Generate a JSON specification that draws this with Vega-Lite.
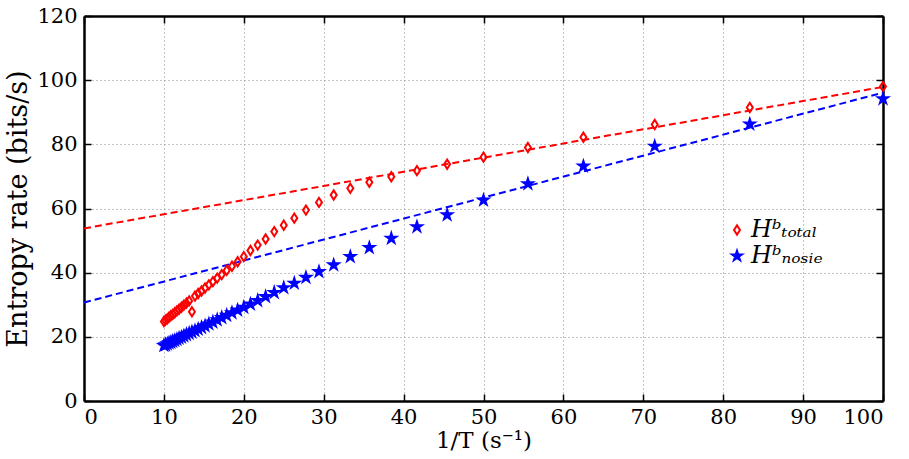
{
  "$schema": "https://vega.github.io/schema/vega-lite/v6.json",
  "width": 799,
  "height": 385,
  "autosize": "none",
  "padding": {"left": 84, "top": 16, "right": 26, "bottom": 58},
  "background": "white",
  "config": {
    "view": {"stroke": null},
    "font": "DejaVu Serif",
    "axis": {
      "domainColor": "black", "domainWidth": 2.5,
      "tickColor": "black", "tickWidth": 1.5, "tickSize": -7,
      "labelFont": "DejaVu Serif", "labelFontSize": 21, "labelColor": "black",
      "titleFont": "DejaVu Serif", "titleFontSize": 25, "titleFontWeight": "normal", "titleColor": "black",
      "gridColor": "#8a8a8a", "gridDash": [1, 3], "gridWidth": 1
    },
    "legend": {"labelFont": "DejaVu Serif", "labelFontSize": 24, "labelFontStyle": "italic", "labelColor": "black"}
  },
  "datasets": {
    "fits": [
      {"x": 0, "y": 53.8, "s": "total"},
      {"x": 100, "y": 97.9, "s": "total"},
      {"x": 0, "y": 30.7, "s": "noise"},
      {"x": 100, "y": 96.1, "s": "noise"}
    ],
    "pts": [
      {"x": 100, "y": 98.0, "s": "Hᵇₜₒₜₐₗ"},
      {"x": 83.33, "y": 91.5, "s": "Hᵇₜₒₜₐₗ"},
      {"x": 71.43, "y": 86.2, "s": "Hᵇₜₒₜₐₗ"},
      {"x": 62.5, "y": 82.2, "s": "Hᵇₜₒₜₐₗ"},
      {"x": 55.56, "y": 79.0, "s": "Hᵇₜₒₜₐₗ"},
      {"x": 50, "y": 76.0, "s": "Hᵇₜₒₜₐₗ"},
      {"x": 45.45, "y": 73.8, "s": "Hᵇₜₒₜₐₗ"},
      {"x": 41.67, "y": 71.8, "s": "Hᵇₜₒₜₐₗ"},
      {"x": 38.46, "y": 69.9, "s": "Hᵇₜₒₜₐₗ"},
      {"x": 35.71, "y": 68.2, "s": "Hᵇₜₒₜₐₗ"},
      {"x": 33.33, "y": 66.3, "s": "Hᵇₜₒₜₐₗ"},
      {"x": 31.25, "y": 64.2, "s": "Hᵇₜₒₜₐₗ"},
      {"x": 29.41, "y": 61.9, "s": "Hᵇₜₒₜₐₗ"},
      {"x": 27.78, "y": 59.5, "s": "Hᵇₜₒₜₐₗ"},
      {"x": 26.32, "y": 57.0, "s": "Hᵇₜₒₜₐₗ"},
      {"x": 25, "y": 54.8, "s": "Hᵇₜₒₜₐₗ"},
      {"x": 23.81, "y": 52.8, "s": "Hᵇₜₒₜₐₗ"},
      {"x": 22.73, "y": 50.5, "s": "Hᵇₜₒₜₐₗ"},
      {"x": 21.74, "y": 48.6, "s": "Hᵇₜₒₜₐₗ"},
      {"x": 20.83, "y": 46.9, "s": "Hᵇₜₒₜₐₗ"},
      {"x": 20, "y": 45.0, "s": "Hᵇₜₒₜₐₗ"},
      {"x": 19.23, "y": 43.4, "s": "Hᵇₜₒₜₐₗ"},
      {"x": 18.52, "y": 42.0, "s": "Hᵇₜₒₜₐₗ"},
      {"x": 17.86, "y": 40.7, "s": "Hᵇₜₒₜₐₗ"},
      {"x": 17.24, "y": 39.4, "s": "Hᵇₜₒₜₐₗ"},
      {"x": 16.67, "y": 38.3, "s": "Hᵇₜₒₜₐₗ"},
      {"x": 16.13, "y": 37.2, "s": "Hᵇₜₒₜₐₗ"},
      {"x": 15.63, "y": 36.2, "s": "Hᵇₜₒₜₐₗ"},
      {"x": 15.15, "y": 35.2, "s": "Hᵇₜₒₜₐₗ"},
      {"x": 14.71, "y": 34.3, "s": "Hᵇₜₒₜₐₗ"},
      {"x": 14.29, "y": 33.5, "s": "Hᵇₜₒₜₐₗ"},
      {"x": 13.89, "y": 32.7, "s": "Hᵇₜₒₜₐₗ"},
      {"x": 13.51, "y": 27.8, "s": "Hᵇₜₒₜₐₗ"},
      {"x": 13.16, "y": 31.2, "s": "Hᵇₜₒₜₐₗ"},
      {"x": 12.82, "y": 30.5, "s": "Hᵇₜₒₜₐₗ"},
      {"x": 12.5, "y": 29.9, "s": "Hᵇₜₒₜₐₗ"},
      {"x": 12.2, "y": 29.2, "s": "Hᵇₜₒₜₐₗ"},
      {"x": 11.9, "y": 28.6, "s": "Hᵇₜₒₜₐₗ"},
      {"x": 11.63, "y": 28.1, "s": "Hᵇₜₒₜₐₗ"},
      {"x": 11.36, "y": 27.5, "s": "Hᵇₜₒₜₐₗ"},
      {"x": 11.11, "y": 27.0, "s": "Hᵇₜₒₜₐₗ"},
      {"x": 10.87, "y": 26.6, "s": "Hᵇₜₒₜₐₗ"},
      {"x": 10.64, "y": 26.1, "s": "Hᵇₜₒₜₐₗ"},
      {"x": 10.42, "y": 25.6, "s": "Hᵇₜₒₜₐₗ"},
      {"x": 10.2, "y": 25.2, "s": "Hᵇₜₒₜₐₗ"},
      {"x": 10, "y": 24.8, "s": "Hᵇₜₒₜₐₗ"},
      {"x": 100, "y": 94.2, "s": "Hᵇₙₒₛᵢₑ"},
      {"x": 83.33, "y": 86.3, "s": "Hᵇₙₒₛᵢₑ"},
      {"x": 71.43, "y": 79.4, "s": "Hᵇₙₒₛᵢₑ"},
      {"x": 62.5, "y": 73.2, "s": "Hᵇₙₒₛᵢₑ"},
      {"x": 55.56, "y": 67.7, "s": "Hᵇₙₒₛᵢₑ"},
      {"x": 50, "y": 62.6, "s": "Hᵇₙₒₛᵢₑ"},
      {"x": 45.45, "y": 58.0, "s": "Hᵇₙₒₛᵢₑ"},
      {"x": 41.67, "y": 54.3, "s": "Hᵇₙₒₛᵢₑ"},
      {"x": 38.46, "y": 50.7, "s": "Hᵇₙₒₛᵢₑ"},
      {"x": 35.71, "y": 47.8, "s": "Hᵇₙₒₛᵢₑ"},
      {"x": 33.33, "y": 45.0, "s": "Hᵇₙₒₛᵢₑ"},
      {"x": 31.25, "y": 42.4, "s": "Hᵇₙₒₛᵢₑ"},
      {"x": 29.41, "y": 40.3, "s": "Hᵇₙₒₛᵢₑ"},
      {"x": 27.78, "y": 38.5, "s": "Hᵇₙₒₛᵢₑ"},
      {"x": 26.32, "y": 36.7, "s": "Hᵇₙₒₛᵢₑ"},
      {"x": 25, "y": 35.3, "s": "Hᵇₙₒₛᵢₑ"},
      {"x": 23.81, "y": 33.8, "s": "Hᵇₙₒₛᵢₑ"},
      {"x": 22.73, "y": 32.5, "s": "Hᵇₙₒₛᵢₑ"},
      {"x": 21.74, "y": 31.3, "s": "Hᵇₙₒₛᵢₑ"},
      {"x": 20.83, "y": 30.2, "s": "Hᵇₙₒₛᵢₑ"},
      {"x": 20, "y": 29.2, "s": "Hᵇₙₒₛᵢₑ"},
      {"x": 19.23, "y": 28.3, "s": "Hᵇₙₒₛᵢₑ"},
      {"x": 18.52, "y": 27.5, "s": "Hᵇₙₒₛᵢₑ"},
      {"x": 17.86, "y": 26.7, "s": "Hᵇₙₒₛᵢₑ"},
      {"x": 17.24, "y": 26.0, "s": "Hᵇₙₒₛᵢₑ"},
      {"x": 16.67, "y": 25.3, "s": "Hᵇₙₒₛᵢₑ"},
      {"x": 16.13, "y": 24.6, "s": "Hᵇₙₒₛᵢₑ"},
      {"x": 15.63, "y": 24.0, "s": "Hᵇₙₒₛᵢₑ"},
      {"x": 15.15, "y": 23.4, "s": "Hᵇₙₒₛᵢₑ"},
      {"x": 14.71, "y": 22.9, "s": "Hᵇₙₒₛᵢₑ"},
      {"x": 14.29, "y": 22.4, "s": "Hᵇₙₒₛᵢₑ"},
      {"x": 13.89, "y": 21.9, "s": "Hᵇₙₒₛᵢₑ"},
      {"x": 13.51, "y": 21.5, "s": "Hᵇₙₒₛᵢₑ"},
      {"x": 13.16, "y": 21.1, "s": "Hᵇₙₒₛᵢₑ"},
      {"x": 12.82, "y": 20.7, "s": "Hᵇₙₒₛᵢₑ"},
      {"x": 12.5, "y": 20.3, "s": "Hᵇₙₒₛᵢₑ"},
      {"x": 12.2, "y": 19.9, "s": "Hᵇₙₒₛᵢₑ"},
      {"x": 11.9, "y": 19.6, "s": "Hᵇₙₒₛᵢₑ"},
      {"x": 11.63, "y": 19.2, "s": "Hᵇₙₒₛᵢₑ"},
      {"x": 11.36, "y": 18.9, "s": "Hᵇₙₒₛᵢₑ"},
      {"x": 11.11, "y": 18.6, "s": "Hᵇₙₒₛᵢₑ"},
      {"x": 10.87, "y": 18.3, "s": "Hᵇₙₒₛᵢₑ"},
      {"x": 10.64, "y": 18.1, "s": "Hᵇₙₒₛᵢₑ"},
      {"x": 10.42, "y": 17.8, "s": "Hᵇₙₒₛᵢₑ"},
      {"x": 10.2, "y": 17.5, "s": "Hᵇₙₒₛᵢₑ"},
      {"x": 10, "y": 17.3, "s": "Hᵇₙₒₛᵢₑ"}
    ]
  },
  "layer": [
    {
      "layer": [
        {
          "data": {"name": "fits"},
          "transform": [{"filter": "datum.s === 'total'"}],
          "mark": {"type": "line", "color": "#ff0000", "strokeDash": [7, 4], "strokeWidth": 2},
          "encoding": {
            "x": {"field": "x", "type": "quantitative"},
            "y": {"field": "y", "type": "quantitative"}
          }
        },
        {
          "data": {"name": "fits"},
          "transform": [{"filter": "datum.s === 'noise'"}],
          "mark": {"type": "line", "color": "#0000ff", "strokeDash": [7, 4], "strokeWidth": 2},
          "encoding": {
            "x": {"field": "x", "type": "quantitative"},
            "y": {"field": "y", "type": "quantitative"}
          }
        },
        {
          "data": {"name": "pts"},
          "mark": {"type": "point", "filled": false, "strokeWidth": 2, "opacity": 1},
          "encoding": {
            "x": {
              "field": "x", "type": "quantitative",
              "scale": {"domain": [0, 100], "nice": false, "zero": false},
              "axis": {"values": [0, 10, 20, 30, 40, 50, 60, 70, 80, 90, 100], "title": "1/T (s⁻¹)", "titleFontSize": 23, "labelPadding": 12, "titlePadding": 2, "grid": true}
            },
            "y": {
              "field": "y", "type": "quantitative",
              "scale": {"domain": [0, 120], "nice": false, "zero": false},
              "axis": {"values": [0, 20, 40, 60, 80, 100, 120], "title": "Entropy rate (bits/s)", "titleFontSize": 27, "labelPadding": 14, "titlePadding": 4, "grid": true}
            },
            "color": {
              "field": "s", "type": "nominal", "title": null,
              "scale": {"domain": ["Hᵇₜₒₜₐₗ", "Hᵇₙₒₛᵢₑ"], "range": ["#ff0000", "#0000ff"]},
              "legend": {"orient": "none", "legendX": 641, "legendY": 202, "symbolStrokeWidth": 2, "rowPadding": 2, "labelOffset": 2}
            },
            "fill": {
              "field": "s", "type": "nominal", "title": null,
              "scale": {"domain": ["Hᵇₜₒₜₐₗ", "Hᵇₙₒₛᵢₑ"], "range": ["rgba(255,255,255,0)", "#0000ff"]}
            },
            "shape": {
              "field": "s", "type": "nominal", "title": null,
              "scale": {"domain": ["Hᵇₜₒₜₐₗ", "Hᵇₙₒₛᵢₑ"], "range": ["M0,-1L0.65,0L0,1L-0.65,0Z", "M0,-1L0.2245,-0.309L0.9511,-0.309L0.3633,0.118L0.5878,0.809L0,0.382L-0.5878,0.809L-0.3633,0.118L-0.9511,-0.309L-0.2245,-0.309Z"]}
            },
            "size": {
              "field": "s", "type": "nominal", "title": null,
              "scale": {"domain": ["Hᵇₜₒₜₐₗ", "Hᵇₙₒₛᵢₑ"], "range": [85, 110]}
            }
          }
        }
      ]
    },
    {
      "data": {"name": "fits"},
      "mark": {"type": "line", "opacity": 0},
      "encoding": {
        "x": {
          "field": "x", "type": "quantitative",
          "scale": {"domain": [0, 100], "nice": false, "zero": false},
          "axis": {"orient": "top", "values": [0, 10, 20, 30, 40, 50, 60, 70, 80, 90, 100], "labels": false, "title": null, "grid": false}
        },
        "y": {
          "field": "y", "type": "quantitative",
          "scale": {"domain": [0, 120], "nice": false, "zero": false},
          "axis": {"orient": "right", "values": [0, 20, 40, 60, 80, 100, 120], "labels": false, "title": null, "grid": false}
        }
      }
    }
  ],
  "resolve": {"scale": {"x": "independent", "y": "independent"}}
}
